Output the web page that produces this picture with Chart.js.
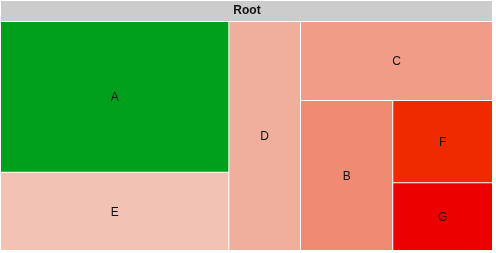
<!DOCTYPE html>
<html>
<head>
<meta charset="utf-8">
<script src="https://cdn.jsdelivr.net/npm/chart.js@4.4.1/dist/chart.umd.min.js"></script>
<style>
  html, body { margin: 0; padding: 0; background: #fff; }
  #wrap { width: 496px; height: 253px; }
</style>
</head>
<body>
<div id="wrap"><canvas id="tree"></canvas></div>
<script>
// treemap data (sizes, roughly % of the area)
const rootLabel  = 'Root';
const cellLabels = ['A', 'B', 'C', 'D', 'E', 'F', 'G'];
const cellSizes  = [30.6, 12.3, 13.5, 14.6, 15.9, 7.3, 6.0];

const CELL_COLORS = {
  A: '#009f1c',
  B: '#f08a72',
  C: '#f09c87',
  D: '#f0af9c',
  E: '#f2c3b4',
  F: '#f02a00',
  G: '#ec0000',
};

/**
 * Peel leading (largest) items off one side so the block that is left
 * stays as square as possible, then recurse into the rest.
 */
function splitLayout(items, box, pxX, pxY, out) {
  if (!items.length) return;
  if (items.length === 1) { out[items[0].index] = box; return; }

  const total = items.reduce((s, it) => s + it.value, 0);
  const wPx = (box.x1 - box.x0) * pxX;
  const hPx = (box.y1 - box.y0) * pxY;
  const cutX = wPx >= hPx;

  let best = 1, bestScore = Infinity, acc = 0;
  for (let k = 1; k < items.length; k++) {
    acc += items[k - 1].value;
    const share = (total - acc) / total;
    const rw = cutX ? wPx * share : wPx;
    const rh = cutX ? hPx : hPx * share;
    const score = Math.max(rw / rh, rh / rw);
    if (score < bestScore) { bestScore = score; best = k; }
  }

  const head = items.slice(0, best);
  const headSum = head.reduce((s, it) => s + it.value, 0);
  const f = headSum / total;
  let headBox, restBox;
  if (cutX) {
    const xm = box.x0 + (box.x1 - box.x0) * f;
    headBox = { x0: box.x0, x1: xm, y0: box.y0, y1: box.y1 };
    restBox = { x0: xm, x1: box.x1, y0: box.y0, y1: box.y1 };
  } else {
    const ym = box.y0 + (box.y1 - box.y0) * f;
    headBox = { x0: box.x0, x1: box.x1, y0: box.y0, y1: ym };
    restBox = { x0: box.x0, x1: box.x1, y0: ym, y1: box.y1 };
  }

  // the peeled items are stacked across the cut
  let pos = cutX ? headBox.y0 : headBox.x0;
  const len = cutX ? headBox.y1 - headBox.y0 : headBox.x1 - headBox.x0;
  head.forEach(it => {
    const span = len * it.value / headSum;
    out[it.index] = cutX
      ? { x0: headBox.x0, x1: headBox.x1, y0: pos, y1: pos + span }
      : { x0: pos, x1: pos + span, y0: headBox.y0, y1: headBox.y1 };
    pos += span;
  });

  splitLayout(items.slice(best), restBox, pxX, pxY, out);
}

class TreemapController extends Chart.DatasetController {
  parse(start, count) {
    const meta = this._cachedMeta;
    const data = this._data;
    for (let i = start; i < start + count; i++) {
      meta._parsed[i] = { x: i, y: +data[i] || 0 };
    }
  }

  getMinMax(scale) {
    return { min: scale.options.min ?? 0, max: scale.options.max ?? 100 };
  }

  update(mode) {
    const meta = this._cachedMeta;
    this.updateElements(meta.data, 0, meta.data.length, mode);
  }

  updateElements(rects, start, count, mode) {
    const { xScale, yScale } = this._cachedMeta;
    const dataset = this.getDataset();
    const gap = dataset.spacing || 0;

    const items = this._data
      .map((v, index) => ({ index, value: +v }))
      .filter(it => it.value > 0)
      .sort((a, b) => b.value - a.value);

    const pxX = Math.abs(xScale.getPixelForValue(1) - xScale.getPixelForValue(0));
    const pxY = Math.abs(yScale.getPixelForValue(1) - yScale.getPixelForValue(0));
    const boxes = [];
    splitLayout(items, { x0: xScale.min, x1: xScale.max, y0: yScale.min, y1: yScale.max }, pxX, pxY, boxes);

    for (let i = start; i < start + count; i++) {
      const b = boxes[i];
      if (!b) continue;
      const px0 = xScale.getPixelForValue(b.x0), px1 = xScale.getPixelForValue(b.x1);
      const py0 = yScale.getPixelForValue(b.y0), py1 = yScale.getPixelForValue(b.y1);
      const l = Math.min(px0, px1), r = Math.max(px0, px1) - gap;
      const t = Math.min(py0, py1), btm = Math.max(py0, py1) - gap;
      this.updateElement(rects[i], i, {
        x: (l + r) / 2,
        y: t,
        base: btm,
        width: r - l,
        height: btm - t,
        horizontal: false,
        borderSkipped: {},
        inflateAmount: 0,
        enableBorderRadius: false,
        options: this.resolveDataElementOptions(i, mode),
      }, mode);
    }
  }
}
TreemapController.id = 'treemapLite';
TreemapController.defaults = { datasetElementType: false, dataElementType: 'bar' };
Chart.register(TreemapController);

// grey band behind the title, the width of the cells
const headerBand = {
  id: 'headerBand',
  beforeDraw(chart, args, opts) {
    const t = chart.titleBlock;
    const a = chart.chartArea;
    if (!t) return;
    const ctx = chart.ctx;
    ctx.save();
    ctx.fillStyle = opts.color;
    ctx.fillRect(a.left, t.top, a.right - a.left - 1, a.top - t.top - 1);
    ctx.restore();
  }
};

// cell names in the middle of each cell
const cellText = {
  id: 'cellText',
  afterDatasetsDraw(chart, args, opts) {
    const ctx = chart.ctx;
    const meta = chart.getDatasetMeta(0);
    ctx.save();
    ctx.font = opts.font;
    ctx.fillStyle = opts.color;
    ctx.textAlign = 'center';
    ctx.textBaseline = 'middle';
    meta.data.forEach((el, i) => {
      const p = el.getCenterPoint();
      ctx.fillText(chart.data.labels[i], p.x, p.y + 1);
    });
    ctx.restore();
  }
};

new Chart(document.getElementById('tree'), {
  type: 'treemapLite',
  data: {
    labels: cellLabels,
    datasets: [{
      data: cellSizes,
      backgroundColor: cellLabels.map(l => CELL_COLORS[l]),
      borderWidth: 0,
      spacing: 1,
    }]
  },
  options: {
    responsive: true,
    maintainAspectRatio: false,
    animation: false,
    events: [],
    layout: { padding: { left: 1, right: 3, top: 1, bottom: 2 } },
    scales: {
      x: { type: 'linear', min: 0, max: 100, display: false },
      y: { type: 'linear', min: 0, max: 100, reverse: true, display: false },
    },
    plugins: {
      colors: { enabled: false },
      legend: { display: false },
      tooltip: { enabled: false },
      title: {
        display: true,
        text: rootLabel,
        color: '#111',
        font: { family: "'Liberation Sans', Arial, sans-serif", size: 12, weight: 'bold', lineHeight: '20px' },
        padding: { top: 0, bottom: 1 },
      },
      headerBand: { color: '#cccccc' },
      cellText: { font: "12px 'Liberation Sans', Arial, sans-serif", color: '#111' },
    }
  },
  plugins: [headerBand, cellText]
});
</script>
</body>
</html>
